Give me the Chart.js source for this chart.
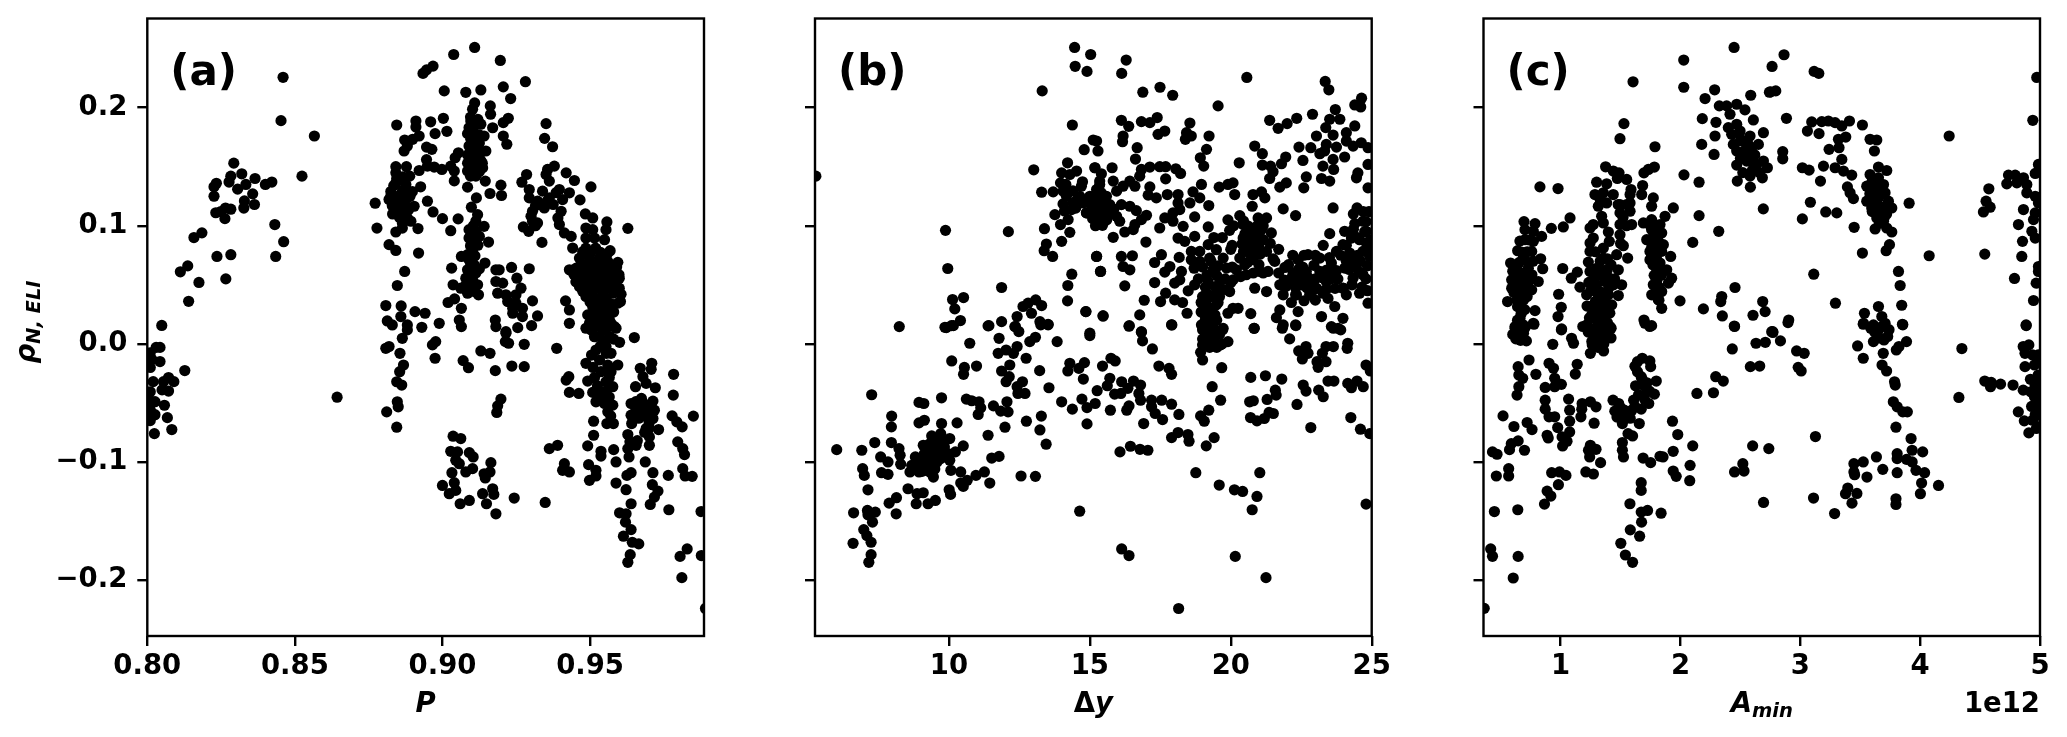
<!DOCTYPE html>
<html>
<head>
<meta charset="utf-8">
<title>rho vs P, dy, Amin</title>
<script src="https://cdn.jsdelivr.net/npm/chart.js@4"></script>
<style>
    html, body { margin: 0; padding: 0; background: #fff; }
    body { width: 2067px; height: 737px; position: relative; overflow: hidden; }
    canvas { position: absolute; top: 0; }
</style>
</head>
<body>
<canvas id="panelA" width="780" height="737" style="left:0"></canvas>
<canvas id="panelB" width="620" height="737" style="left:780px"></canvas>
<canvas id="panelC" width="667" height="737" style="left:1400px"></canvas>
<script>
const yTicks = [-0.2, -0.1, 0, 0.1, 0.2];
const yTickLabels = ['\u22120.2', '\u22120.1', '0.0', '0.1', '0.2'];
const yRange = [-0.2474, 0.2755];

const xTicksA = [0.80, 0.85, 0.90, 0.95];
const xLabelsA = ['0.80', '0.85', '0.90', '0.95'];
const xRangeA = [0.80, 0.9886];

const xTicksB = [10, 15, 20, 25];
const xLabelsB = ['10', '15', '20', '25'];
const xRangeB = [5.25, 25];

// panel c values are in units of 1e12
const xTicksC = [1, 2, 3, 4, 5];
const xLabelsC = ['1', '2', '3', '4', '5'];
const xRangeC = [0.356, 5];

const pointsA = [
    [.846,.2257],[.8453,.189],[.8566,.176],[.8524,.142],[.8293,.153],[.832,.144],[.8365,.14],[.8283,.142],[.8277,.137],[.8234,.136],
    [.8226,.133],[.8226,.125],[.8306,.131],[.8334,.135],[.8357,.127],[.84,.135],[.8422,.137],[.8329,.121],[.8327,.115],[.8363,.118],
    [.8283,.114],[.8265,.115],[.8249,.112],[.8232,.111],[.8263,.106],[.8432,.101],[.8462,.0865],[.8435,.074],[.8185,.094],[.8158,.09],
    [.8236,.074],[.8283,.0755],[.8137,.066],[.8112,.061],[.8175,.052],[.8266,.055],[.814,.036],[.8049,.0156],[.8043,-.003],[.803,-.003],
    [.801,-.0076],[.8015,-.013],[.8043,-.015],[.801,-.02],[.8127,-.0226],[.802,-.032],[.8072,-.0285],[.809,-.032],[.8055,-.032],[.8072,-.04],
    [.805,-.039],[.801,-.0406],[.8007,-.0476],[.8026,-.049],[.8058,-.052],[.801,-.056],[.8026,-.06],[.801,-.065],[.8068,-.0625],[.8083,-.0726],
    [.8024,-.076],[.8003,-.061],[.8643,-.0452],
    [.9109,.251],[.9038,.245],[.9196,.24],[.8968,.2352],[.8934,.229],[.8946,.232],[.9281,.222],[.9206,.2176],[.9006,.2142],[.9079,.213],
    [.913,.215],[.9231,.2077],[.9109,.204],[.9102,.1987],[.9162,.2015],[.9163,.1944],[.8845,.1853],[.891,.1887],[.891,.1836],[.896,.188],
    [.9003,.191],[.9015,.18],[.8975,.178],[.9223,.191],[.9206,.1873],[.9096,.1887],[.913,.186],[.917,.183],[.909,.183],[.9085,.178],
    [.9113,.186],[.9102,.18],[.9124,.177],[.9096,.1732],[.9119,.172],[.9141,.176],[.909,.1675],[.9113,.165],[.9147,.1633],[.9085,.16],
    [.9119,.1576],[.913,.155],[.9085,.153],[.9107,.149],[.9136,.149],[.9085,.1463],[.9113,.142],[.9145,.1378],[.9085,.1327],[.904,.138],
    [.9206,.176],[.9218,.169],[.8921,.176],[.8899,.1732],[.8872,.1726],[.8881,.1675],[.887,.1633],[.8946,.1666],[.8964,.1647],[.8946,.156],
    [.9054,.1618],[.9043,.1576],[.8842,.15],[.8878,.15],[.8842,.1448],[.8921,.1468],[.8949,.1505],[.8972,.1497],[.8998,.1477],[.9028,.1505],
    [.904,.1463],[.8889,.142],[.9198,.1344],[.9161,.1273],[.92,.1256],[.9115,.1236],[.8842,.1363],[.8876,.135],[.8926,.133],[.8898,.129],
    [.8825,.129],[.8819,.1222],[.8859,.1264],[.8881,.1236],[.8847,.118],[.8904,.1165],[.8831,.11],[.8864,.1123],[.8881,.1066],[.8864,.1024],
    [.8893,.1038],[.8772,.1191],[.8949,.1208],[.8968,.1117],[.9,.106],[.8778,.098],[.8842,.0947],[.8864,.098],[.8917,.0976],[.9028,.0958],
    [.9053,.1058],[.8819,.084],[.8842,.0791],[.8919,.0769],[.8872,.0613],[.8847,.0494],[.8808,.0324],[.886,.0321],[.8907,.0273],[.8941,.0259],
    [.8813,.0194],[.883,.016],[.8859,.0231],[.8881,.016],[.893,.014],[.8989,.0174],[.9057,.0202],[.9064,.0146],
    [.9098,.1157],[.9119,.1094],[.9113,.1038],[.9141,.0995],[.909,.0967],[.9113,.0953],[.909,.0896],[.9107,.0854],[.9156,.0862],[.9102,.0783],
    [.9064,.074],[.909,.0712],[.9144,.0684],[.9107,.067],[.9085,.0627],[.9031,.0641],[.9113,.0599],[.9079,.0556],[.9102,.0542],[.9119,.05],
    [.9036,.05],[.9062,.0471],[.9085,.0429],[.9122,.0415],[.9041,.0381],[.9019,.035],[.9064,.0301],
    [.9181,.0627],[.9192,.0627],[.9234,.0647],[.9294,.0636],[.9252,.0556],[.9181,.0528],[.9204,.0514],[.9266,.0471],[.9187,.0429],[.9215,.0415],
    [.9249,.0415],[.9221,.0358],[.9249,.0344],[.9305,.0364],[.9238,.0301],[.9271,.0301],[.9322,.0236],[.9238,.0259],[.9271,.0231],[.9179,.0202],
    [.9181,.0146],[.9255,.0137],[.9302,.0154],[.9215,.0103],[.9417,.0364],[.943,.0287],[.943,.0174],
    [.9351,.1865],[.9346,.174],[.9373,.1669],[.9379,.1505],[.9356,.1477],[.9351,.1434],[.9285,.1434],[.9269,.1369],[.9294,.1307],[.9362,.1378],
    [.9419,.1448],[.9447,.1383],[.9503,.1329],[.9339,.1293],[.9396,.1307],[.943,.1279],[.9294,.1236],[.9322,.1208],[.9362,.1236],[.9407,.1222],
    [.9466,.1219],[.9305,.1123],[.9345,.1151],[.9402,.1123],[.9305,.1038],[.9391,.1066],[.9274,.099],[.9292,.0953],[.9322,.1024],[.9396,.101],
    [.9337,.0859],[.9413,.0939],[.9436,.091],[.9484,.11],[.9509,.1066],[.9557,.1032],[.9554,.0967],[.9549,.0882],[.9628,.0978],[.9486,.0981],
    [.9509,.0967],[.9441,.0811],[.9486,.0896],[.9515,.0896],
    [.9568,.0789],[.9594,.069],[.943,.0627],[.9486,.081],[.9519,.081],[.9464,.0726],[.9498,.0726],[.9532,.0726],[.956,.0698],[.9453,.0641],
    [.9486,.0641],[.9519,.0641],[.9554,.0627],[.9588,.0613],[.9464,.0556],[.9498,.0556],[.9532,.0556],[.9566,.0542],[.9599,.0556],[.9464,.0486],
    [.9498,.0471],[.9532,.0471],[.9566,.0471],[.9599,.0471],[.9486,.0401],[.9519,.0386],[.9554,.0386],[.9603,.0358],[.9509,.0316],[.9543,.0316],
    [.9492,.0245],[.9526,.0245],[.9566,.0259],[.9498,.0174],[.9532,.0174],[.9571,.0174],[.9504,.0117],[.9543,.0117],[.9583,.0146],
    [.8808,-.0038],[.8819,-.0023],[.8856,-.008],[.8864,.0047],[.8881,.0118],[.8966,-.0009],[.8977,.0019],[.8975,-.0122],[.907,-.0142],[.9088,-.0202],
    [.913,-.006],[.9161,-.008],[.9179,-.0227],[.9235,-.0188],[.9277,-.0193],[.9213,.0019],[.9224,.0005],[.9277,-.0004],[.9215,.009],[.9387,-.0038],
    [.8868,-.0179],[.8855,-.0236],[.8845,-.0321],[.8862,-.0349],[.8847,-.0491],[.885,-.0533],[.8811,-.0576],[.8845,-.0706],[.9198,-.0468],[.9187,-.0525],
    [.9184,-.0581],[.9036,-.0782],[.9062,-.0802],[.9028,-.091],[.9051,-.0915],[.9091,-.0921],[.9104,-.0958],[.9045,-.0986],[.9057,-.1015],[.9102,-.1057],
    [.9079,-.1085],[.9032,-.1091],[.9164,-.1006],[.9161,-.1085],[.9141,-.11],[.9145,-.1136],[.904,-.1176],[.9,-.1199],[.9023,-.1269],[.9045,-.1241],
    [.906,-.1354],[.9091,-.1326],[.9136,-.1269],[.917,-.1227],[.9174,-.1275],[.9149,-.1354],[.9181,-.1439],[.9243,-.1306],[.9348,-.1343],[.939,-.0859],
    [.9362,-.0887],[.9419,-.0307],[.9428,-.0278],[.943,-.0411],[.9462,-.042],[.9413,-.1015],[.943,-.1085],[.9407,-.1071],[.9492,-.0864],[.9512,-.0774],
    [.9512,-.0655],[.9495,-.1023],[.952,-.1071],[.952,-.1119],[.9498,-.1156],[.9537,-.091],[.9537,-.095],[.958,-.0896],[.9588,-.1],[.9588,-.1179],
    [.9622,-.1235],[.9639,-.1354],[.96,-.1431],[.9622,-.1439],[.962,-.151],[.9639,-.1573],[.9613,-.1629],[.9643,-.168],[.9665,-.1694],[.9636,-.1785],
    [.9628,-.185],[.965,.0053],[.96,.0013],
    [.9486,.0132],[.9532,.0147],[.9566,.0147],[.9588,.0132],[.9532,.0062],[.9566,.0062],[.952,-.0052],[.9554,-.0023],[.9571,-.008],[.9594,-.0179],
    [.9486,-.0165],[.9532,-.0137],[.9537,-.0236],[.9571,-.0236],[.9492,-.0315],[.9554,-.0321],[.9577,-.0363],[.9509,-.0411],[.9537,-.0406],[.952,-.0491],
    [.9549,-.0505],[.9577,-.0519],[.956,-.0576],[.9557,-.0675],[.9579,-.0675],
    [.9709,-.0165],[.967,-.0207],[.9707,-.0216],[.9679,-.0278],[.969,-.0335],[.9654,-.0363],[.9721,-.0372],[.9674,-.0462],[.9713,-.0485],[.9639,-.0505],
    [.9667,-.0519],[.9695,-.0533],[.9718,-.0562],[.9639,-.0604],[.9667,-.059],[.969,-.0618],[.9713,-.0632],[.9641,-.0675],[.969,-.0717],[.9732,-.0726],
    [.9628,-.0768],[.9701,-.0788],[.9656,-.0859],[.9628,-.0887],[.9701,-.0859],[.9632,-.0958],[.9687,-.1],[.9639,-.1091],[.9625,-.1114],[.9713,-.1091],
    [.9765,-.1114],[.9711,-.1193],[.973,-.1247],[.9718,-.1298],[.9704,-.136],[.9767,-.1405],[.9783,-.0258],[.9782,-.0434],[.9778,-.061],[.9794,-.0661],
    [.9812,-.0703],[.985,-.0612],[.9797,-.083],[.9814,-.0887],[.982,-.0938],[.9814,-.1057],[.9822,-.1119],[.9846,-.1122],[.9876,-.142],[.9829,-.1737],
    [.9805,-.18],[.9877,-.1793],[.9811,-.198],[.9891,-.2241]
];

// the overlapping points inside the solid blobs of panel a
const blobsA = [
    [.9475,.078],[.9503,.0775],[.9535,.0775],[.9558,.076],[.947,.068],[.9502,.0685],[.9535,.068],[.9565,.066],[.959,.065],[.9445,.059],
    [.948,.06],[.951,.06],[.9545,.06],[.9575,.059],[.9598,.0585],[.9452,.0525],[.948,.052],[.9515,.0515],[.955,.051],[.9583,.0505],
    [.9475,.0445],[.951,.0445],[.9545,.0435],[.958,.043],[.9605,.042],[.95,.0355],[.9535,.035],[.957,.034],[.9595,.0345],[.952,.028],
    [.9555,.028],[.958,.027],[.9505,.021],[.954,.021],[.9565,.021],[.9513,.014],[.9555,.0145],[.9515,.006],[.955,.002],[.9535,-.002],
    [.958,.004],[.9505,-.0095],[.9555,-.008],[.951,-.02],[.956,-.018],[.9515,-.0285],[.9565,-.0285],[.9525,-.0355],[.9555,-.04],[.9535,-.046],
    [.9565,-.045],[.957,-.061],
    [.9095,.192],[.912,.19],[.9105,.175],[.9125,.17],[.9095,.165],[.9125,.16],[.9105,.155],[.9095,.15],[.9125,.146],[.9135,.153],
    [.9105,.162],[.9115,.1515],[.9095,.142],[.911,.178],[.9105,.169],
    [.8845,.14],[.8865,.1415],[.8835,.134],[.8865,.13],[.885,.125],[.887,.122],[.883,.117],[.8855,.115],[.8875,.117],[.8845,.11],
    [.8875,.1105],[.8855,.107],[.8885,.1135],[.8825,.125],[.889,.125],
    [.9105,.1],[.91,.0925],[.9125,.091],[.9095,.083],[.912,.0835],[.9085,.0755],[.911,.0745],[.9095,.066],[.9125,.0635],[.91,.0495],
    [.9105,.0445],[.908,.05],[.9095,.057],
    [.9315,.117],[.93,.108],[.9315,.1],[.9375,.118],[.9385,.128],[.9355,.121],
    [.9655,-.049],[.968,-.05],[.97,-.0545],[.9655,-.055],[.968,-.0565],[.9705,-.06],[.9665,-.063],[.97,-.067],[.9635,-.083],[.966,-.082],
    [.9685,-.075],[.97,-.0715]
];

const pointsB = [
    [5.28,.142],[14.46,.251],[15.03,.245],[14.48,.235],[14.9,.2307],[13.31,.2142],[14.38,.1853],[15.12,.1726],[15.24,.1717],[14.8,.1644],
    [15.29,.1633],[13.01,.1474],[14.21,.1533],[14,.1448],[14.53,.1463],[14.29,.1434],[15.18,.1491],[15.41,.144],[13.96,.1363],[14.74,.1372],
    [14.7,.1335],[15.35,.1378],[14.05,.1293],[13.29,.1284],[13.7,.1287],[15.24,.1307],[14.17,.125],[14.64,.125],[14.05,.1185],[14.41,.1193],
    [14.76,.1193],[15.24,.1208],[15.53,.1236],[15.47,.1165],[14.35,.1137],[14.88,.1109],[15.24,.1109],[15.53,.1094],[13.76,.1094],[14.23,.1052],
    [13.96,.101],[15.26,.1052],[15.45,.1004],[13.39,.0975],[14.29,.0944],[9.88,.0961],[12.11,.095],[14,.0868],[13.46,.0845],[13.38,.0789],
    [13.68,.074],[15.24,.074],[15.38,.0613],[14.36,.059],[14.22,.0494],[14.21,.0364],[9.96,.0638],[11.87,.0477],[10.13,.0375],[10.52,.0392],
    [10.21,.0296],[10.41,.0197],[8.24,.0146],[9.86,.014],[10.09,.0154],[11.42,.0154],[11.87,.0188],[12.42,.0231],[12.34,.0146],[12.63,.0316],
    [12.81,.0344],[13.08,.0372],[13.29,.0324],[12.93,.0259],[13.23,.0188],[13.52,.0165],[14.86,.0273],[15.47,.0236],[15,.009],
    [16.29,.2403],[16.13,.229],[20.57,.2256],[16.88,.2131],[17.49,.2173],[17.94,.2105],[19.55,.2015],[23.35,.2222],[23.48,.2151],[24.64,.208],
    [24.4,.2023],[24.61,.2006],[23.71,.1984],[22.9,.1944],[16.12,.1893],[16.38,.1842],[16.83,.1882],[17.13,.1873],[17.39,.1916],[18.55,.187],
    [21.38,.1893],[21.68,.1825],[22,.1865],[22.34,.191],[23.51,.1902],[23.87,.1902],[23.37,.1831],[24.4,.1845],[24.1,.1788],[16.18,.176],
    [16.16,.1712],[17.42,.1774],[17.66,.1802],[18.43,.1788],[18.6,.176],[18.39,.1732],[19.23,.176],[23.04,.176],[23.63,.1768],[23.39,.1689],
    [24.1,.1717],[16.68,.1661],[20.85,.1675],[19.14,.1647],[18.92,.1576],[22.42,.1666],[22.84,.1661],[23.75,.1666],[24.34,.1675],[24.63,.1703],
    [24.87,.1661],[21.12,.161],[21.95,.1582],[22.56,.1553],[23.16,.161],[23.33,.1633],[24.04,.1582],[23.63,.1562],[16.62,.1565],[21.8,.1525],
    [20.3,.1533],[19.04,.1505],[21.12,.1514],[21.41,.1505],[23.27,.1505],[23.65,.1477],[24.87,.1519],[15.79,.1491],[15.18,.1491],[16.83,.1477],
    [17.13,.1497],[17.48,.15],[17.69,.15],[18.05,.1482],[18.22,.1443],[16.77,.142],[17.69,.1397],[21.5,.1457],[21.38,.14],[22.68,.1414],
    [24.51,.1448],[24.46,.1406],[23.22,.14],[23.51,.1378],[20.08,.1363],[18.96,.135],[19.59,.1327],[19.9,.135],[21.97,.1363],[21.74,.1327],
    [22.59,.1321],[24.87,.1321],[15.35,.1349],[15.83,.1378],[16.42,.1378],[16.6,.1335],[16.18,.1335],[17.13,.1329],[15.95,.1293],[17.07,.1259],
    [17.36,.1236],[17.75,.1264],[18.13,.1264],[18.66,.1287],[18.9,.1236],[20.14,.1264],[20.79,.1264],[21.09,.1287],[21.21,.1236],[15.24,.1236],
    [15.59,.125],[15,.1193],[15.35,.1179],[15.71,.1179],[16.12,.1179],[16.42,.1165],[16.65,.1128],[14.76,.1208],[18.13,.1193],[18.55,.1193],
    [19.22,.1171],[20.76,.1165],[21.86,.1143],[23.63,.1151],[24.48,.1151],[14.88,.1109],[15.35,.1094],[15.95,.108],[17.01,.1089],[16.83,.1052],
    [18.72,.1075],[17.95,.1109],[18.19,.1137],[22.3,.1086],[20.32,.1086],[20.97,.1066],[21.27,.1066],[15.41,.101],[16.06,.1038],[16.6,.101],
    [17.66,.1066],[17.95,.1038],[18.31,.0995],[17.48,.0981],[19.2,.099],[16.24,.0947],[16.54,.0967],[19.96,.0961],[20.44,.101],[20.79,.0981],
    [21.44,.0939],[21.09,.0967],[24.4,.1018],[24.69,.1038],[15.83,.0902],[18.72,.091],[18.13,.0896],[18.37,.0868],[16.99,.0862],[23.51,.0933],
    [24.04,.0953],[24.81,.0953],[20.44,.0896],[20.79,.0896],[21.15,.0882],[24.28,.0896],[24.57,.0882],[23.28,.0834],[20.05,.0834],[19.2,.084],
    [23.98,.084],[24.81,.0854],[19.49,.0797],[15.24,.074],[16.12,.074],[16.51,.0746],[17.54,.0755],[18.17,.0732],[18.6,.0783],[18.9,.0783],
    [20.55,.0797],[20.91,.0797],[21.27,.0783],[23.75,.0783],[24.22,.0769],[24.69,.0783],[22.74,.0755],[22.39,.0712],[23.16,.0726],[18.6,.0712],
    [18.9,.0698],[19.25,.0726],[19.73,.0726],[20.32,.0726],[20.79,.0712],[23.57,.0684],[24.93,.074],[17.3,.0689],[16.18,.0655],[15.38,.0613],
    [16.42,.0627],[21.56,.0698],[21.92,.0647],[24.46,.067],[24.04,.0641],[17.84,.0655],[17.66,.0607],[18.25,.0613],[19.37,.0627],[19.85,.0641],
    [20.2,.0627],[20.55,.0585],[21.03,.0613],[21.32,.0613],[22.21,.0599],[22.68,.0613],[23.16,.0613],[23.63,.0599],[24.34,.0556],[24.69,.0585],
    [16.24,.0491],[17.3,.0519],[18.01,.0514],[18.19,.0542],[18.72,.05],[19.2,.0528],[19.61,.0528],[20.08,.0542],[20.85,.0471],[21.27,.0443],
    [21.74,.05],[22.15,.0514],[22.51,.05],[22.92,.0514],[23.39,.0528],[23.98,.0471],[18.49,.0449],[17.69,.0429],[16.93,.0369],[17.51,.0358],
    [18.01,.0372],[18.29,.035],[19.14,.0429],[19.49,.0429],[19.96,.0443],[21.86,.0415],[22.33,.0415],[22.8,.0415],[23.27,.0429],[23.69,.0316],
    [24.1,.0415],[24.57,.0429],[24.87,.0344],[14.86,.0273],[15.47,.0236],[16.77,.0245],[18.45,.0259],[16.4,.0154],[17.91,.016],[16.83,.0103],
    [19.14,.033],[19.49,.033],[20.08,.0301],[20.26,.0301],[20.71,.0256],[19.08,.0245],[19.44,.0245],[19.9,.0259],[21.74,.0287],[22.39,.0273],
    [21.62,.0222],[23.22,.0231],[23.98,.0216],[21.86,.016],[22.3,.016],[18.96,.016],[19.31,.016],[19.73,.0131],[20.83,.0131],[23.57,.0146],[23.81,.0131],
    [9.91,.0138],[10.16,.0155],[10.74,.0005],[11.39,.0152],[10.1,-.0145],[10.55,-.02],[10.52,-.0258],[10.98,-.0188],[11.78,.0047],[11.75,-.008],
    [12.03,-.0052],[12.29,-.008],[12.42,-.0023],[12.48,.0104],[12.36,.0147],[12.87,.0019],[13.07,.0056],[13.84,.0019],[12.74,-.0122],[12.16,-.0179],
    [11.87,-.023],[13.22,-.0227],[12.14,-.0278],[12.03,-.0321],[12.61,-.0321],[12.42,-.0363],[12.45,-.042],[12.7,-.042],[13.55,-.0372],[15,.007],
    [13.26,.0161],[13.52,.0161],[16.39,.0149],[16.83,.0098],[16.87,.0025],[17.22,-.0043],[17.9,.0161],[14.29,-.0165],[14.81,-.0159],[14.22,-.023],
    [14.61,-.0208],[14.77,-.0298],[15.45,-.0188],[15.75,-.0122],[15.9,-.0145],[15.71,-.0292],[15.62,-.0355],[15.26,-.0397],[16.13,-.0321],[16.55,-.0315],
    [16.8,-.0349],[16.35,-.0377],[16.1,-.042],[15.88,-.0426],[16.74,-.042],[16.8,-.0477],[14,-.0491],[14.72,-.0468],[15.19,-.0505],[14.9,-.054],
    [14.38,-.0553],[16.39,-.0525],[16.31,-.0562],[15.73,-.0562],[14.9,-.0678],[16.91,-.0675],[17.45,-.0188],[17.81,-.0208],[17.9,-.0258],[17.19,-.0477],
    [17.55,-.0477],[17.9,-.0511],[17.19,-.0533],[17.32,-.059],[17.58,-.0641],[18.16,-.0598],[18.13,-.0751],[17.9,-.0794],[18.48,-.0768],[18.52,-.0825],
    [19.41,-.0794],[19.13,-.0864],[18.93,-.061],[19.06,-.0655],[19.22,-.0562],[19.64,-.0477],[19.34,-.0363],[19.68,-.0202],[19,-.0137],[18.93,-.0072],
    [19,-.0009],[19.13,.0076],[19.38,.0019],[19.64,-.0009],[19.9,.0019],[19.38,.0104],[19.71,.0118],[19.25,.0147],[19.06,.0161],[20.83,.0132],
    [21.83,.0132],[22.09,.0042],[22.31,.0155],[23.64,.0132],[23.9,.0118],[22.67,-.0023],[22.41,-.006],[22.74,-.008],[22.54,-.0128],[23.25,-.008],
    [23.38,-.0023],[23.64,-.0023],[24.15,.0005],[24.13,-.0038],[23.38,-.0151],[23.06,-.0151],[23.1,-.0199],[24.8,-.0179],[24.95,-.023],[20.71,-.0284],
    [21.23,-.027],[21.81,-.0298],[22.57,-.0349],[22.67,-.04],[23.12,-.0392],[23.28,-.0448],[23.45,-.0315],[23.66,-.0315],[24.15,-.0335],[24.48,-.0315],
    [24.28,-.0372],[24.7,-.0363],[21.58,-.0392],[21.29,-.0471],[21.61,-.0434],[20.67,-.0491],[20.8,-.0482],[22.35,-.0513],[20.7,-.0624],[20.93,-.0652],
    [21.19,-.0632],[21.51,-.059],[21.36,-.0581],[22.84,-.0709],[24.26,-.0624],[24.6,-.0723],[24.93,-.076],
    [10.62,-.0468],[10.81,-.0482],[11.07,-.0491],[11.13,-.0542],[11.04,-.0598],[11.58,-.0525],[11.84,-.057],[12.1,-.0576],[12.06,-.0491],[11.99,-.0706],
    [12.75,-.0655],[13.28,-.0612],[13.23,-.0729],[13.45,-.085],[11.39,-.0774],[10.29,-.0669],[9.74,-.0457],[8.94,-.0496],[9.11,-.0505],[7.97,-.0612],
    [7.96,-.0703],[8.94,-.0669],[9.13,-.0647],[9.74,-.0675],[7.26,-.0431],[6.02,-.0896],[6.91,-.0901],[7.37,-.0836],[7.96,-.0836],[8.23,-.0887],
    [8.27,-.0944],[7.58,-.0958],[7.84,-.1],[8.29,-.102],[6.94,-.1057],[7,-.1114],[7.61,-.1091],[7.84,-.1105],[7.13,-.1236],[6.62,-.1431],
    [7.11,-.1411],[7.39,-.1425],[7.13,-.1448],[7.29,-.151],[6.98,-.1573],[7.09,-.1624],[7.24,-.168],[6.6,-.1689],[7.24,-.1785],[7.16,-.185],
    [8.13,-.1439],[7.88,-.1349],[8.14,-.1303],[8.55,-.1227],[8.87,-.1269],[9.09,-.1261],[8.84,-.1354],[9.26,-.1354],[9.52,-.1326],[10.01,-.1236],
    [10.06,-.1275],[10.42,-.1179],[10.65,-.1156],[10.51,-.1207],[10.96,-.1114],[11.26,-.1085],[11.45,-.1179],[10.42,-.1085],[10.07,-.1071],[12.56,-.1119],
    [13.07,-.1122],[11.52,-.0967],[11.78,-.0953],
    [9.39,-.078],[9.71,-.076],[10.03,-.0802],[9.09,-.0859],[9.52,-.083],[9.84,-.0873],[10.51,-.0864],[10.23,-.0915],[9.97,-.093],[8.81,-.0958],
    [9.13,-.093],[9.45,-.0944],[9.71,-.0972],[10.03,-.0986],[8.68,-.1029],[8.94,-.1029],[9.26,-.1],[9.58,-.1],[8.62,-.1085],[8.94,-.1085],
    [9.2,-.1071],[9.45,-.1128],
    [16.07,-.0915],[16.44,-.0867],[16.78,-.0893],[17.06,-.0901],[18.76,-.1091],[19.59,-.1196],[20.13,-.1236],[20.42,-.125],[21.03,-.1091],[20.93,-.1292],
    [20.76,-.1405],[24.8,-.1357],[14.64,-.1417],[16.13,-.1737],[16.39,-.1793],[20.16,-.18],[21.25,-.198],[18.15,-.2241]
];

const blobsB = [
    [19,.04],[19.3,.04],[19.6,.04],[18.95,.035],[19.25,.03],[19.55,.035],[18.95,.027],[19.25,.02],[19.5,.02],[19.1,.0205],
    [19.4,.013],[19,.012],[19.6,.008],[19.15,.003],[19.4,.004],[19,.004],[19.7,0],[19.25,-.003],[19.5,-.003],[19.25,.0085],
    [19.1,.048],[19.45,.048],[18.85,.055],[19.15,.058],[19.5,.058],[19.8,.055],[18.7,.064],[19,.065],[19.55,.066],[19.3,.07],
    [20.05,.065],[20.35,.057],[20.5,.067],[20,.052],[19.75,.046],
    [20.6,.1],[20.95,.1],[20.5,.093],[20.65,.0905],[21,.092],[20.4,.0845],[20.65,.083],[21,.084],[20.7,.076],[21.05,.076],
    [20.45,.078],[20.6,.069],[21,.067],[20.8,.06],[21.15,.06],[20.45,.104],[21.15,.1],
    [21.9,.054],[22.15,.0555],[22.45,.055],[22.75,.056],[23,.055],[23.25,.056],[23.55,.055],[21.95,.0485],[22.3,.0475],[22.7,.0475],
    [23.05,.047],[23.4,.0465],[23.7,.047],[22.05,.067],[22.4,.063],[22.95,.0665],[23.4,.0625],[22.55,.065],[23.75,.062],[22.6,.0365],
    [22.15,.035],[23,.037],[23.45,.0385],[24.3,.07],[24.6,.07],[24.85,.066],[24.2,.063],[24.55,.061],[24.8,.055],[24.3,.05],
    [24.65,.048],[24.85,.045],[24.5,.075],[24.1,.0835],[24.5,.09],[24.75,.095],[24.85,.08],[24.35,.097],[24.8,.1035],[24.95,.088],
    [14.4,.1295],[14.15,.135],[14.55,.122],[14.5,.115],[14.1,.1125],[15.1,.115],[15.15,.125],[15.4,.111],[15.4,.128],[15.1,.106],
    [15.6,.105],[15.2,.1],[15.55,.115],[15.7,.11],[15,.125],[15.85,.114],[15.3,.12],
    [9.3,-.085],[9.55,-.09],[9.3,-.092],[9,-.097],[9.35,-.097],[9.6,-.093],[9.15,-.1025],[9.45,-.104],[9.05,-.108],[9.35,-.109],
    [9.5,-.106],[8.8,-.106],[9.85,-.092],[9.8,-.083],
    [20,.08],[19.7,.09],[19.4,.09],[21.4,.085],[21.7,.08],[21.5,.072],[20.1,.1],[19.9,.105],[22.2,.075],[22.6,.075],
    [23,.075],[23.5,.073],[23.9,.075],[24.1,.07],[23.8,.055],[24,.047],[22.3,.0415],[21.7,.06],[22.9,.045],[24.7,.112],
    [24.35,.11],[24.9,.112]
];

const pointsC = [
    [2.447,.251],[2.027,.2403],[2.027,.2173],[1.604,.2219],[2.285,.2151],[2.205,.2077],[2.586,.2105],[2.742,.2131],[2.324,.2015],[2.385,.2015],
    [2.469,.2029],[2.538,.1981],[2.413,.1944],[2.182,.1907],[2.296,.1876],[2.608,.1896],[1.528,.1865],[1.495,.1737],[1.787,.1669],[2.288,.176],
    [2.177,.1689],[2.28,.1604],[2.399,.1831],[2.469,.1859],[2.497,.1802],[2.427,.1774],[2.692,.1788],[2.58,.176],[2.441,.1689],[2.525,.1717],
    [2.65,.1689],[2.594,.1661],[2.469,.1633],[2.552,.1618],[2.692,.1548],[2.469,.1514],[2.552,.1548],[2.636,.1519],[2.58,.142],[2.683,.1406],
    [2.725,.1491],[2.474,.1378],[2.583,.1327],[2.691,.1143],[2.029,.1431],[2.155,.1369],[1.375,.1499],[1.439,.1463],[1.487,.1448],[1.551,.1392],
    [1.473,.14],[1.3,.1369],[1.384,.1355],[1.782,.1497],[1.732,.1477],[1.695,.1448],[1.684,.1341],[1.587,.1307],[1.579,.1264],[1.286,.1264],
    [1.356,.1279],[1.439,.1264],[1.676,.1264],[1.773,.1236],[.827,.1329],[.978,.1315],[1.314,.1165],[1.384,.1193],[1.495,.1179],[1.579,.1193],
    [1.759,.1165],[1.94,.1151],[1.342,.108],[1.495,.1109],[1.579,.1123],[1.871,.108],[2.155,.1086],[1.078,.1066],[1.022,.099],[.922,.0978],
    [.694,.1035],[.786,.1018],[.702,.0967],[.772,.0953],[.841,.091],[1.272,.101],[1.245,.0981],[1.356,.1024],[1.495,.101],[1.592,.101],
    [1.69,.1024],[1.759,.1052],[1.829,.101],[2.319,.0953],[1.398,.0947],[1.495,.0924],[1.759,.0967],[1.843,.0939],[1.718,.0882],[1.272,.0896],
    [1.245,.0854],[1.406,.0868],[.702,.0882],[.772,.0868],[2.102,.0859],[1.523,.0831],[1.787,.0854],[1.857,.084],[.641,.0789],[1.245,.0783],
    [1.356,.0811],[1.745,.0783],[1.843,.0783],[.758,.0783],[.582,.0684],[.688,.0726],[.833,.072],[1.467,.0755],[1.356,.0726],[1.559,.0726],
    [1.231,.0692],[1.918,.074],[1.745,.0712],[1.829,.0684],[.633,.0641],[.73,.0641],[.85,.0636],[1.017,.0638],[1.139,.0607],[1.089,.0556],
    [1.245,.0613],[1.356,.0613],[1.481,.0627],[1.885,.0627],[1.801,.0613],[.591,.0542],[.674,.0556],[.813,.0528],[.744,.0542],[1.926,.0556],
    [1.801,.0528],[1.899,.0514],[1.161,.048],[1.259,.05],[1.37,.0528],[1.509,.05],[.591,.0471],[.674,.0471],[.758,.0457],[.983,.042],
    [2.455,.0477],[1.773,.05],[1.76,.0415],[1.843,.0443],[1.217,.0415],[1.314,.0415],[1.398,.0415],[1.481,.0409],[.557,.0358],[.66,.0372],
    [1.996,.0364],[2.344,.0401],[2.336,.0358],[2.686,.0358],[1.815,.0372],[2.191,.0296],[1.843,.0301],[2.706,.0273],[.674,.0301],[.786,.0281],
    [1.005,.031],[1.245,.0316],[1.342,.033],[1.426,.033],[2.349,.0236],[2.605,.0242],[.978,.0231],[1.259,.0245],[1.37,.0245],[1.695,.0202],
    [.66,.0217],[.772,.0174],[1.759,.0154],[2.449,.0151],[.619,.0146],[.688,.016],[1.008,.0126],[1.217,.016],[1.314,.016],[1.412,.0146],[2.761,.0103],
    [2.864,.2448],[2.764,.2349],[3.115,.2307],[3.154,.229],[2.753,.2134],[2.795,.2142],[4.973,.2256],[2.884,.191],[3.095,.1879],[3.179,.1882],
    [3.234,.1887],[3.29,.1873],[3.346,.1845],[3.41,.1887],[3.518,.1853],[3.059,.1802],[3.156,.178],[4.94,.1893],[3.379,.1751],[3.318,.1732],
    [3.323,.1661],[3.24,.1647],[3.582,.1732],[3.638,.1726],[3.618,.1633],[4.242,.176],[2.853,.1627],[2.853,.1567],[3.346,.1562],[3.017,.1491],
    [3.073,.1471],[3.193,.1505],[3.29,.1491],[3.36,.1463],[3.429,.1429],[3.168,.1378],[3.652,.1497],[3.721,.1468],[3.582,.1434],[3.652,.1406],
    [3.554,.1335],[3.624,.1349],[3.694,.1349],[3.393,.1329],[3.415,.1279],[3.443,.123],[3.707,.1279],[3.61,.1279],[3.554,.1208],[3.638,.1193],
    [3.735,.1208],[3.596,.1151],[3.68,.1123],[3.763,.1151],[3.908,.1191],[3.084,.1199],[3.212,.1117],[3.304,.1109],[3.017,.1058],[3.638,.1066],
    [3.694,.1038],[3.449,.0987],[3.624,.0973],[3.721,.0981],[3.763,.0947],[3.744,.084],[3.716,.0789],[3.518,.0769],[4.075,.0746],[4.539,.076],
    [3.819,.0613],[3.833,.0494],[3.112,.059],[3.293,.0344],[3.846,.0327],[3.652,.0316],[3.535,.0259],[3.68,.0231],[3.852,.0166],[3.527,.0174],
    [3.61,.016],[3.707,.0174],[3.652,.0117],[2.903,.0202],[2.77,.0103],[4.573,.1313],[4.55,.1208],[4.584,.1157],[4.528,.1117],[4.737,.1429],
    [4.793,.1429],[4.723,.1355],[4.807,.1363],[4.862,.1406],[4.89,.1349],[4.89,.1279],[4.96,.125],[4.862,.1137],[4.96,.1109],[4.987,.1193],
    [4.946,.1052],[4.82,.101],[4.932,.0953],[4.96,.0896],[4.854,.0868],[4.848,.074],[4.987,.1519],[4.96,.1443],[4.987,.0655],[4.987,.0613],
    [4.787,.0554],[4.968,.0514],[4.946,.0367],[4.884,.016],
    [.362,-.224],[.604,-.1983],[.431,-.1799],[.416,-.1737],[.645,-.18],[.447,-.142],[.642,-.1405],[.431,-.0915],[.469,-.0935],[.463,-.1119],
    [.566,-.1057],[.566,-.1119],[.519,-.061],[.61,-.07],[.72,-.0666],[.761,-.0726],[.573,-.0896],[.588,-.0845],[.645,-.0822],[.698,-.0901],
    [.934,-.0004],[.626,.0042],[.714,.0025],[.62,.0132],[.683,.0138],[.777,.0166],[.736,-.0137],[.645,-.0193],[.651,-.0264],[.683,-.0292],
    [.793,-.0258],[.651,-.0363],[.636,-.0434],[.903,-.0165],[.94,-.0207],[.95,-.0292],[.871,-.0369],[.95,-.0363],[1.006,-.0343],[1.138,-.0173],
    [1.122,-.0256],[1.091,.0047],[1.107,.0005],[1.006,.0118],[.871,-.0477],[.871,-.0553],[.903,-.0618],[.95,-.0618],[1.066,-.0468],[1.075,-.0562],
    [1.075,-.0655],[1.179,-.0505],[1.176,-.0553],[1.169,-.0618],[1.248,-.0491],[1.295,-.0533],[1.279,-.0672],[.975,-.0709],[.887,-.0774],[.896,-.0797],
    [1.075,-.0746],[1.012,-.0788],[1.053,-.0825],[1.016,-.0865],[1.248,-.0859],[1.295,-.0893],[1.232,-.0901],[1.242,-.0958],[1.333,-.1006],[.925,-.1091],
    [.99,-.1085],[1.044,-.1114],[1.21,-.1085],[1.273,-.1102],[.981,-.1193],[.887,-.1247],[.918,-.1289],[.865,-.1357],[1.248,.0132],[1.342,.0132],
    [1.421,.0132],[1.279,.0047],[1.358,.0062],[1.264,-.0009],[1.248,-.008],[1.358,-.006],[1.185,.0147],[1.744,.0147],[1.703,.0175],[2.451,.0147],
    [2.432,-.0043],[2.63,.0005],[2.708,.0013],[2.771,.0096],[2.834,.0025],[2.897,.018],[2.969,-.006],[3.032,-.008],[2.583,-.0193],[2.661,-.0188],
    [2.982,-.0199],[3.007,-.023],[2.294,-.0278],[2.357,-.0315],[2.137,-.042],[2.275,-.0414],[1.681,-.0122],[1.744,-.0145],[1.641,-.0151],[1.641,-.0236],
    [1.751,-.0193],[1.672,-.0278],[1.625,-.0355],[1.688,-.0349],[1.798,-.0315],[1.719,-.0406],[1.782,-.0426],[1.437,-.0477],[1.484,-.0505],[1.609,-.0477],
    [1.735,-.0505],[1.452,-.057],[1.531,-.0562],[1.594,-.0562],[1.672,-.0553],[1.515,-.0632],[1.515,-.0675],[1.656,-.0675],[1.562,-.076],[1.6,-.078],
    [1.933,-.0655],[1.977,-.0768],[2.102,-.0864],[1.515,-.0836],[1.515,-.0901],[1.524,-.0958],[1.939,-.091],[1.688,-.0967],[1.751,-.1006],[1.829,-.0952],
    [1.854,-.0958],[2.08,-.1029],[1.939,-.1077],[1.964,-.1122],[2.077,-.1159],[1.672,-.1176],[1.672,-.1241],[1.578,-.1354],[1.672,-.1425],[1.725,-.1411],
    [1.838,-.1434],[1.675,-.151],[1.581,-.1575],[1.659,-.1629],[1.502,-.1689],[1.54,-.1788],[1.6,-.185],[2.602,-.0864],[2.737,-.0887],[2.52,-.1015],
    [2.451,-.1085],[2.53,-.1077],[2.693,-.1343],[3.126,-.0785],[3.11,-.1306],[3.286,-.1437],[3.447,-.1015],[3.525,-.1],[3.635,-.0958],[3.447,-.1085],
    [3.453,-.1108],[3.688,-.1063],[3.556,-.1128],[3.808,-.093],[3.808,-.0972],[3.886,-.0978],[3.933,-.1],[3.924,-.0802],[3.933,-.0901],[4.021,-.0915],
    [3.808,-.1091],[3.965,-.1071],[4.037,-.1091],[4.153,-.1199],[4.012,-.1179],[4.002,-.1269],[3.396,-.1221],[3.377,-.1269],[3.472,-.1267],[3.431,-.1349],
    [3.798,-.1312],[3.798,-.136],[3.478,-.0018],[3.525,-.0122],[3.61,.0019],[3.698,.0033],[3.729,.0062],[3.692,-.008],[3.682,-.0179],[3.72,-.023],
    [3.801,-.0052],[3.823,-.0023],[3.886,.0019],[3.855,.0161],[3.682,.0147],[3.525,.0166],[3.588,.0132],[3.786,-.0321],[3.792,-.0349],[3.776,-.0491],
    [3.808,-.0533],[3.855,-.0576],[3.893,-.0576],[3.798,-.0706],[4.348,-.004],[4.323,-.0454],[4.539,-.0315],[4.593,-.0326],[4.587,-.0363],[4.671,-.0341],
    [4.775,-.0349],[4.885,.0155],[4.86,-.0023],[4.907,-.0009],[4.875,-.008],[4.938,-.0094],[4.875,-.0193],[4.954,-.0179],[4.954,-.0321],[4.86,-.0392],
    [4.923,-.0406],[4.954,-.0448],[4.97,-.0519],[4.819,-.0576],[4.869,-.0652],[4.938,-.0647],[4.907,-.0754],[4.97,-.0717],[4.985,-.0264],[4.985,-.0094],[4.985,-.0604]
];

const blobsC = [
    [.66,.087],[.74,.088],[.72,.078],[.68,.0775],[.655,.069],[.7,.071],[.77,.07],[.6,.0615],[.66,.0605],[.7,.0595],
    [.76,.0585],[.62,.055],[.65,.05],[.71,.0525],[.61,.0435],[.645,.0415],[.695,.045],[.725,.049],[.635,.037],[.69,.037],
    [.72,.04],[.67,.0255],[.64,.0315],[.7,.029],[.65,.012],[.69,.009],[.64,.02],[.665,.015],[.705,.014],[.625,.007],[.665,.003],[.6,.008],
    [1.29,.078],[1.33,.07],[1.39,.072],[1.3,.064],[1.39,.063],[1.42,.067],[1.28,.056],[1.33,.058],[1.4,.056],[1.45,.055],
    [1.235,.052],[1.3,.05],[1.33,.044],[1.4,.047],[1.44,.05],[1.25,.045],[1.35,.038],[1.29,.036],[1.38,.034],[1.22,.032],
    [1.27,.03],[1.31,.028],[1.35,.027],[1.41,.026],[1.24,.022],[1.29,.021],[1.33,.02],[1.39,.018],[1.23,.01],[1.27,.009],
    [1.32,.008],[1.38,.007],[1.42,.005],[1.3,.002],[1.345,.002],[1.26,.002],[1.31,-.003],[1.36,0],
    [1.75,.1],[1.8,.095],[1.77,.09],[1.81,.088],[1.76,.082],[1.8,.08],[1.76,.075],[1.8,.072],[1.77,.067],[1.81,.065],
    [1.78,.058],[1.84,.058],[1.79,.05],[1.82,.048],[1.79,.043],[1.82,.037],
    [1.33,.122],[1.52,.107],[1.55,.1],[1.5,.085],[1.48,.118],[1.55,.118],
    [3.6,.138],[3.66,.133],[3.58,.127],[3.66,.125],[3.62,.12],[3.68,.116],[3.6,.112],[3.64,.109],[3.72,.11],[3.66,.102],[3.7,.107],[3.58,.122],
    [2.5,.172],[2.56,.17],[2.5,.157],[2.58,.155],[2.62,.16],[2.52,.145],[2.6,.147],[2.66,.145],[2.49,.178],[2.54,.164],
    [1.62,-.019],[1.68,-.03],[1.72,-.033],[1.65,-.043],[1.7,-.047],[1.74,-.04],[1.55,-.06],[1.62,-.053],[1.5,-.054],[1.58,-.063],[1.47,-.062],
    [4.98,-.015],[4.96,-.035],[4.98,-.045],[4.96,-.06],[4.98,-.07],[4.92,-.03],[4.93,-.053],[4.99,-.04],
    [3.66,.005],[3.62,.01],[3.74,.012],[3.7,.015]
];

const plotTop = 18.5;
const xAxisHeight = 101;
const tickFont = { family: 'DejaVu Sans', size: 27.5, weight: 'bold' };

// write a line made of pieces with different fonts, centred or right aligned on x
function drawRuns(ctx, runs, x, y, rotate, align) {
    ctx.save();
    ctx.translate(x, y);
    if (rotate) ctx.rotate(-Math.PI / 2);
    ctx.fillStyle = '#000';
    ctx.textBaseline = 'alphabetic';
    ctx.textAlign = 'left';
    let total = 0;
    runs.forEach(r => {
        ctx.font = r.font;
        total += ctx.measureText(r.text).width;
    });
    let pos = align === 'right' ? -total : align === 'left' ? 0 : -total / 2;
    runs.forEach(r => {
        ctx.font = r.font;
        ctx.fillText(r.text, pos, r.dy || 0);
        pos += ctx.measureText(r.text).width;
    });
    ctx.restore();
}

const BIG = 'bold 27.5px "DejaVu Sans"';
const BIG_IT = 'italic bold 27.5px "DejaVu Sans"';
const SMALL_IT = 'italic bold 19.5px "DejaVu Sans"';
const PANEL_FONT = 'bold 42px "DejaVu Sans"';

function noPadding(s) {
    s.paddingTop = 0;
    s.paddingBottom = 0;
    s.paddingLeft = 0;
    s.paddingRight = 0;
}

function makePanel(id, points, xRange, xTicks, xLabels, leftWidth, rightPad, showY, drawText) {
    return new Chart(document.getElementById(id), {
        type: 'scatter',
        data: {
            datasets: [{
                data: points.map(p => ({ x: p[0], y: p[1] })),
                pointRadius: 5.6,
                pointHoverRadius: 5.6,
                pointBorderWidth: 0,
                pointBackgroundColor: '#000',
                clip: 0
            }]
        },
        options: {
            responsive: false,
            animation: false,
            events: [],
            layout: { padding: { top: plotTop, right: rightPad, left: 0, bottom: 0 } },
            plugins: { legend: { display: false }, tooltip: { enabled: false } },
            scales: {
                x: {
                    type: 'linear',
                    min: xRange[0],
                    max: xRange[1],
                    afterBuildTicks: s => { s.ticks = xTicks.map(v => ({ value: v })); },
                    afterFit: s => { s.height = xAxisHeight; noPadding(s); },
                    border: { display: false },
                    grid: { drawOnChartArea: false, color: '#000', lineWidth: 2.4, tickLength: 10 },
                    ticks: {
                        autoSkip: false,
                        maxRotation: 0,
                        color: '#000',
                        font: tickFont,
                        padding: 4,
                        callback: (v, i) => xLabels[i]
                    }
                },
                y: {
                    type: 'linear',
                    min: yRange[0],
                    max: yRange[1],
                    afterBuildTicks: s => { s.ticks = yTicks.map(v => ({ value: v })); },
                    afterFit: s => { s.width = leftWidth; noPadding(s); },
                    border: { display: false },
                    grid: { drawOnChartArea: false, color: '#000', lineWidth: 2.4, tickLength: 10 },
                    ticks: {
                        display: showY,
                        autoSkip: false,
                        color: '#000',
                        font: tickFont,
                        padding: 10,
                        callback: (v, i) => yTickLabels[i]
                    }
                }
            }
        },
        plugins: [{
            id: 'frameAndText',
            afterDraw(chart) {
                const ctx = chart.ctx;
                const a = chart.chartArea;
                ctx.save();
                ctx.strokeStyle = '#000';
                ctx.lineWidth = 2.4;
                ctx.strokeRect(a.left, a.top, a.right - a.left, a.bottom - a.top);
                ctx.restore();
                drawText(ctx, a);
            }
        }]
    });
}

makePanel('panelA', pointsA.concat(blobsA), xRangeA, xTicksA, xLabelsA, 147.3, 76, true, (ctx, a) => {
    drawRuns(ctx, [{ text: '(a)', font: PANEL_FONT }], a.left + 23, 85, false, 'left');
    drawRuns(ctx, [{ text: 'P', font: BIG_IT }], (a.left + a.right) / 2, 712, false);
    drawRuns(ctx, [{ text: '\u03c1', font: BIG_IT }, { text: 'N, ELI', font: SMALL_IT, dy: 5 }], 35, 322, true);
});

makePanel('panelB', pointsB.concat(blobsB), xRangeB, xTicksB, xLabelsB, 35, 28.3, false, (ctx, a) => {
    drawRuns(ctx, [{ text: '(b)', font: PANEL_FONT }], a.left + 23, 85, false, 'left');
    drawRuns(ctx, [{ text: '\u0394', font: BIG }, { text: 'y', font: BIG_IT }], (a.left + a.right) / 2, 712, false);
});

makePanel('panelC', pointsC.concat(blobsC), xRangeC, xTicksC, xLabelsC, 83.5, 27, false, (ctx, a) => {
    drawRuns(ctx, [{ text: '(c)', font: PANEL_FONT }], a.left + 23, 85, false, 'left');
    drawRuns(ctx, [{ text: 'A', font: BIG_IT }, { text: 'min', font: SMALL_IT, dy: 5 }], (a.left + a.right) / 2, 712, false);
    drawRuns(ctx, [{ text: '1e12', font: BIG }], a.right, 712, false, 'right');
});
</script>
</body>
</html>
